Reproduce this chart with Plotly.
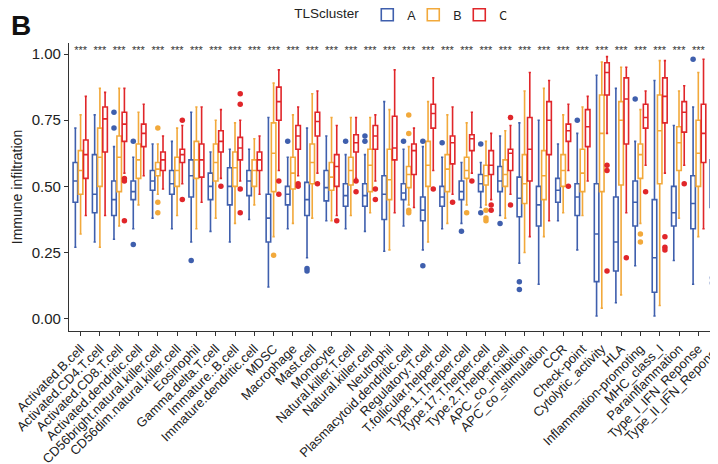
import plotly.graph_objects as go

categories = [
    "Activated.B.cell", "Activated.CD4.T.cell", "Activated.CD8.T.cell", "Activated.dendritic.cell",
    "CD56bright.natural.killer.cell", "CD56dim.natural.killer.cell", "Eosinophil", "Gamma.delta.T.cell",
    "Immature..B.cell", "Immature.dendritic.cell", "MDSC", "Macrophage", "Mast.cell", "Monocyte",
    "Natural.killer.T.cell", "Natural.killer.cell", "Neutrophil", "Plasmacytoid.dendritic.cell",
    "Regulatory.T.cell", "T.follicular.helper.cell", "Type.1.T.helper.cell", "Type.17.T.helper.cell",
    "Type.2.T.helper.cell", "APC_co_inhibition", "APC_co_stimulation", "CCR", "Check-point",
    "Cytolytic_activity", "HLA", "Inflammation-promoting", "MHC_class_I", "Parainflammation",
    "Type_I_IFN_Reponse", "Type_II_IFN_Reponse",
]
clusters = ["A", "B", "C"]
sig_labels = ["***"] * len(categories)
y_ticks = [0.0, 0.25, 0.5, 0.75, 1.0]

# cluster A
A_q1 = [0.44, 0.40, 0.39, 0.45, 0.485, 0.47, 0.46, 0.45, 0.43, 0.465, 0.29, 0.43, 0.39, 0.445, 0.425, 0.425, 0.375,
        0.45, 0.37, 0.425, 0.45, 0.48, 0.48, 0.385, 0.35, 0.44, 0.39, 0.14, 0.18, 0.35, 0.10, 0.35, 0.34, 0.42]
A_med = [0.52, 0.47, 0.45, 0.48, 0.52, 0.51, 0.54, 0.50, 0.50, 0.52, 0.38, 0.47, 0.45, 0.495, 0.465, 0.465, 0.47,
         0.475, 0.41, 0.46, 0.48, 0.51, 0.52, 0.455, 0.43, 0.485, 0.46, 0.32, 0.29, 0.44, 0.23, 0.40, 0.435, 0.49]
A_q3 = [0.59, 0.62, 0.52, 0.52, 0.56, 0.56, 0.60, 0.55, 0.57, 0.56, 0.47, 0.50, 0.515, 0.56, 0.51, 0.51, 0.54,
        0.51, 0.46, 0.50, 0.52, 0.545, 0.575, 0.535, 0.50, 0.53, 0.51, 0.51, 0.46, 0.52, 0.45, 0.50, 0.54, 0.60]
A_lo = [0.27, 0.29, 0.30, 0.34, 0.38, 0.34, 0.29, 0.33, 0.29, 0.375, 0.12, 0.34, 0.23, 0.37, 0.34, 0.33, 0.255,
        0.35, 0.26, 0.34, 0.36, 0.42, 0.39, 0.21, 0.13, 0.37, 0.26, 0.01, 0.06, 0.20, 0.01, 0.22, 0.13, 0.165]
A_hi = [0.72, 0.77, 0.65, 0.61, 0.66, 0.67, 0.78, 0.63, 0.64, 0.64, 0.76, 0.61, 0.72, 0.69, 0.62, 0.62, 0.82,
        0.64, 0.65, 0.61, 0.59, 0.59, 0.69, 0.74, 0.75, 0.66, 0.70, 0.92, 0.87, 0.67, 0.90, 0.73, 0.80, 0.81]
A_out = [[], [], [0.78, 0.72], [0.67, 0.28], [], [], [0.22], [], [], [], [], [0.67], [0.19, 0.18], [], [0.67],
         [0.69, 0.67], [], [0.67], [0.67, 0.20], [0.665], [0.33], [0.66, 0.40], [0.36], [0.14, 0.11], [], [],
         [0.75], [], [], [0.83], [], [], [0.98], [0.155, 0.135]]

# cluster B
B_q1 = [0.47, 0.50, 0.48, 0.53, 0.54, 0.50, 0.53, 0.52, 0.50, 0.50, 0.48, 0.49, 0.51, 0.485, 0.505, 0.48, 0.45,
        0.495, 0.50, 0.48, 0.53, 0.505, 0.50, 0.435, 0.45, 0.50, 0.48, 0.48, 0.505, 0.53, 0.51, 0.56, 0.50, 0.45]
B_med = [0.56, 0.61, 0.61, 0.60, 0.565, 0.56, 0.60, 0.59, 0.57, 0.56, 0.625, 0.55, 0.59, 0.535, 0.56, 0.58, 0.525,
         0.545, 0.58, 0.565, 0.56, 0.54, 0.545, 0.51, 0.54, 0.56, 0.55, 0.70, 0.75, 0.62, 0.71, 0.665, 0.625, 0.57]
B_q3 = [0.635, 0.72, 0.69, 0.66, 0.59, 0.61, 0.67, 0.66, 0.63, 0.60, 0.74, 0.61, 0.66, 0.59, 0.61, 0.64, 0.64,
        0.575, 0.67, 0.62, 0.61, 0.58, 0.60, 0.62, 0.635, 0.62, 0.64, 0.845, 0.82, 0.66, 0.845, 0.725, 0.75, 0.675]
B_lo = [0.32, 0.27, 0.35, 0.43, 0.47, 0.39, 0.34, 0.38, 0.36, 0.43, 0.31, 0.36, 0.38, 0.37, 0.39, 0.40, 0.26,
        0.43, 0.29, 0.36, 0.43, 0.43, 0.38, 0.25, 0.31, 0.40, 0.39, 0.04, 0.09, 0.36, 0.05, 0.38, 0.31, 0.25]
B_hi = [0.77, 0.87, 0.87, 0.78, 0.66, 0.72, 0.80, 0.75, 0.74, 0.68, 0.89, 0.77, 0.85, 0.76, 0.76, 0.76, 0.79,
        0.65, 0.82, 0.77, 0.74, 0.67, 0.71, 0.86, 0.87, 0.77, 0.80, 0.97, 0.95, 0.79, 0.975, 0.86, 0.93, 0.90]
B_out = [[], [], [], [], [0.72, 0.44, 0.40], [], [], [], [], [], [0.24], [], [], [], [], [], [],
         [0.77, 0.70, 0.41, 0.40], [], [], [0.40], [0.41, 0.38, 0.37], [], [], [], [], [], [], [],
         [0.32, 0.29], [], [], [], [0.96, 0.22, 0.185]]

# cluster C
C_q1 = [0.53, 0.63, 0.67, 0.65, 0.56, 0.59, 0.535, 0.63, 0.60, 0.56, 0.75, 0.64, 0.69, 0.50, 0.63, 0.64, 0.60,
        0.545, 0.72, 0.585, 0.635, 0.545, 0.56, 0.52, 0.62, 0.67, 0.65, 0.845, 0.66, 0.72, 0.74, 0.705, 0.59, 0.62]
C_med = [0.62, 0.755, 0.735, 0.70, 0.60, 0.62, 0.60, 0.67, 0.645, 0.60, 0.82, 0.69, 0.745, 0.575, 0.665, 0.69,
         0.645, 0.635, 0.775, 0.665, 0.68, 0.58, 0.625, 0.64, 0.75, 0.71, 0.725, 0.93, 0.83, 0.76, 0.84, 0.78,
         0.70, 0.72]
C_q3 = [0.675, 0.80, 0.78, 0.735, 0.63, 0.64, 0.66, 0.71, 0.685, 0.63, 0.875, 0.73, 0.78, 0.62, 0.695, 0.73,
        0.765, 0.66, 0.81, 0.69, 0.695, 0.635, 0.64, 0.76, 0.82, 0.735, 0.79, 0.967, 0.91, 0.81, 0.91, 0.82,
        0.81, 0.80]
C_lo = [0.39, 0.39, 0.55, 0.54, 0.49, 0.51, 0.44, 0.53, 0.52, 0.47, 0.56, 0.54, 0.55, 0.39, 0.53, 0.52, 0.40,
        0.42, 0.56, 0.47, 0.55, 0.45, 0.47, 0.31, 0.37, 0.56, 0.52, 0.70, 0.40, 0.58, 0.55, 0.58, 0.34, 0.40]
C_hi = [0.84, 0.855, 0.87, 0.81, 0.69, 0.73, 0.80, 0.79, 0.75, 0.69, 0.94, 0.80, 0.86, 0.73, 0.76, 0.77, 0.94,
        0.72, 0.91, 0.80, 0.78, 0.70, 0.73, 0.93, 0.90, 0.81, 0.84, 0.99, 0.95, 0.86, 0.975, 0.88, 0.98, 0.97]
C_out = [[], [], [0.53, 0.52, 0.37], [], [], [0.75, 0.45], [], [0.50], [0.85, 0.81, 0.49, 0.40], [],
         [0.52, 0.47], [0.51, 0.50], [0.51], [0.37], [0.52, 0.48], [0.49, 0.45], [], [], [0.49], [0.44], [0.52],
         [0.43, 0.41], [0.76, 0.43], [], [], [0.50], [], [0.58, 0.56, 0.18], [0.23], [0.48], [0.31, 0.27, 0.26],
         [0.51], [], []]

stats = {
    "A": (A_q1, A_med, A_q3, A_lo, A_hi, A_out),
    "B": (B_q1, B_med, B_q3, B_lo, B_hi, B_out),
    "C": (C_q1, C_med, C_q3, C_lo, C_hi, C_out),
}
colors = {"A": "#3F5FAD", "B": "#F2A93B", "C": "#E0262A"}
offsets = {"A": -0.27, "B": 0.0, "C": 0.27}
FONT = "Liberation Sans, Arial, sans-serif"

fig = go.Figure()
for cl in clusters:
    q1, med, q3, lo, hi, out = stats[cl]
    xs = [i + offsets[cl] for i in range(len(categories))]
    fig.add_trace(go.Box(
        name=cl, legendgroup=cl, x=xs, q1=q1, median=med, q3=q3,
        lowerfence=lo, upperfence=hi, width=0.235, boxpoints=False,
        line=dict(color=colors[cl], width=1.6), fillcolor="white",
    ))
for cl in clusters:
    out = stats[cl][5]
    ox, oy = [], []
    for i, vals in enumerate(out):
        for v in vals:
            ox.append(i + offsets[cl])
            oy.append(v)
    fig.add_trace(go.Scatter(
        x=ox, y=oy, mode="markers", legendgroup=cl, showlegend=False,
        marker=dict(color=colors[cl], size=5.5), hoverinfo="skip",
    ))

fig.add_trace(go.Scatter(
    x=list(range(len(categories))), y=[1.011] * len(categories), mode="text",
    text=sig_labels, textfont=dict(size=11, color="#333333", family=FONT),
    showlegend=False, hoverinfo="skip",
))

# the page body adds an 8 px margin, so the figure is 8 px smaller than the window
fig.update_layout(
    width=710, height=456,
    margin=dict(l=61, r=0, t=35, b=133, autoexpand=False),
    paper_bgcolor="white", plot_bgcolor="white",
    font=dict(family=FONT, color="#222222"),
    boxmode="overlay",
    showlegend=True,
    legend=dict(
        orientation="h", x=0.344, xanchor="left", y=1.097, yanchor="middle",
        title=dict(text="TLScluster", font=dict(size=13.5, family=FONT, color="#222222")),
        font=dict(size=12.5, family=FONT, color="#222222"),
        itemwidth=30, entrywidth=1, entrywidthmode="pixels", tracegroupgap=0,
    ),
    xaxis=dict(
        range=[-0.6, 33.02], tickmode="array", tickvals=list(range(len(categories))),
        ticktext=categories, tickangle=-45, ticks="outside", ticklen=4, tickwidth=1,
        tickcolor="#333333", showline=True, linecolor="#333333", linewidth=1.2,
        showgrid=False, zeroline=False, automargin=False, ticklabeloverflow="allow",
        tickfont=dict(size=13, family=FONT, color="#222222"),
    ),
    yaxis=dict(
        range=[-0.0465, 1.0416], tickmode="array", tickvals=y_ticks, tickformat=".2f",
        ticks="outside", ticklen=4, tickwidth=1, tickcolor="#333333", ticklabelstandoff=0,
        showline=True, linecolor="#333333", linewidth=1.2, showgrid=False, zeroline=False,
        automargin=False, tickfont=dict(size=15, family=FONT, color="#222222"),
        title=dict(text="Immune infiltration", font=dict(size=14, family=FONT, color="#222222"), standoff=5),
    ),
    annotations=[dict(
        text="<b>B</b>", xref="paper", yref="paper", x=-0.093, y=1.06, xanchor="left", yanchor="middle",
        showarrow=False, font=dict(size=28, family=FONT, color="#111111"),
    )],
)

fig.write_html("out.html")
